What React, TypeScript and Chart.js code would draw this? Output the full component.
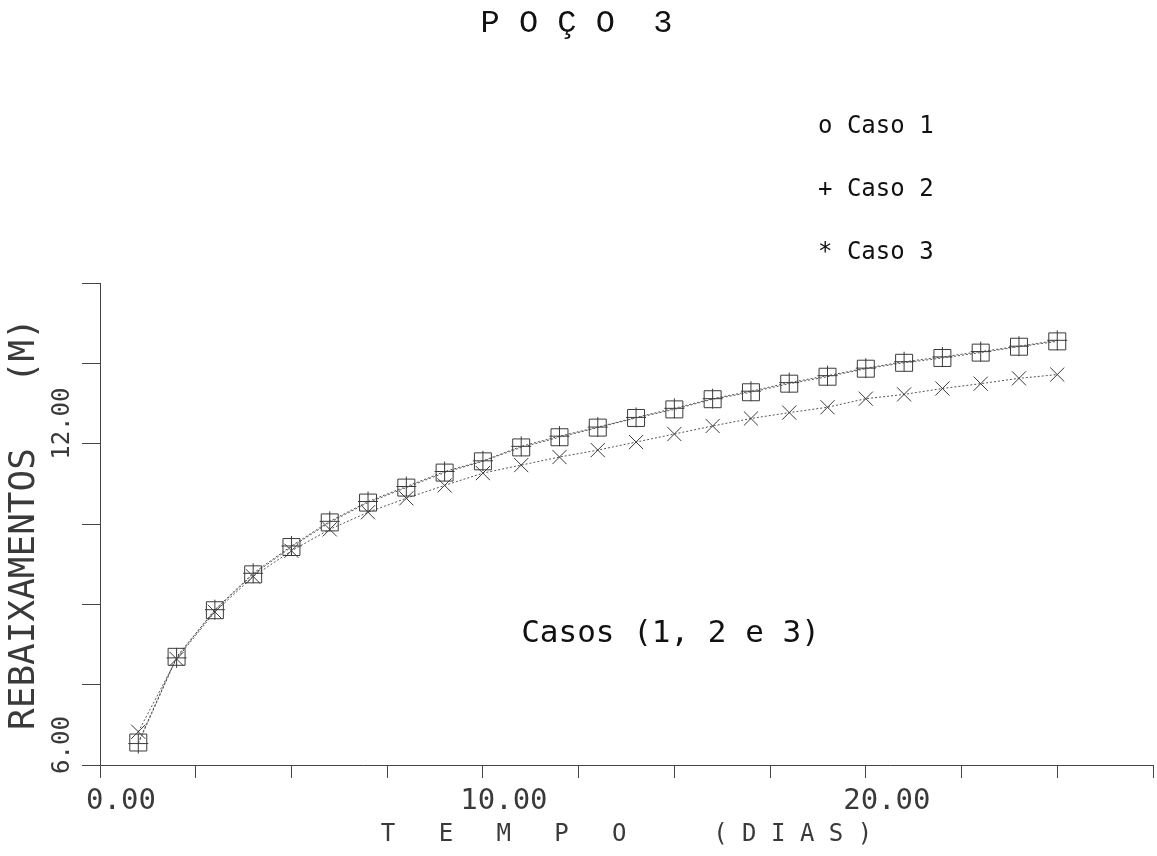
import React, { useEffect, useRef } from "react";
import { Chart, registerables } from "chart.js";

Chart.register(...registerables);

// ---- data ----
const TEMPO_DIAS = [1, 2, 3, 4, 5, 6, 7, 8, 9, 10, 11, 12, 13, 14, 15, 16, 17, 18, 19, 20, 21, 22, 23, 24, 25];
const CASO_1 = [6.42, 8.02, 8.89, 9.56, 10.07, 10.53, 10.9, 11.18, 11.46, 11.67, 11.93, 12.12, 12.3, 12.48, 12.64, 12.83, 12.96, 13.12, 13.25, 13.4, 13.51, 13.6, 13.7, 13.81, 13.91];
const CASO_2 = [6.4, 8.0, 8.9, 9.58, 10.09, 10.55, 10.92, 11.2, 11.48, 11.68, 11.95, 12.14, 12.31, 12.49, 12.66, 12.84, 12.98, 13.14, 13.27, 13.41, 13.53, 13.62, 13.72, 13.82, 13.93];
const CASO_3 = [6.62, 7.98, 8.86, 9.52, 10.0, 10.4, 10.72, 10.98, 11.22, 11.45, 11.6, 11.75, 11.88, 12.03, 12.18, 12.33, 12.47, 12.58, 12.68, 12.84, 12.92, 13.03, 13.12, 13.22, 13.29];

const SERIES_LABELS = ["Caso 1", "Caso 2", "Caso 3"];
const LEGEND_SYMBOLS = ["o", "+", "*"];
const X_LABELED_TICKS = [0, 10, 20];
const Y_LABELED_TICKS = [6, 12];
const TITLE = "P O Ç O  3";
const X_TITLE = "T   E   M   P   O      ( D I A S )";
const Y_TITLE = "REBAIXAMENTOS   (M)";
const NOTE = "Casos (1, 2 e 3)";
const NOTE_AT = { x: 11, y: 8.45 };

const INK = "#111111";
const PLOT_INK = "#3a3a3a";
const AXIS = "#444444";
const MONO = "'DejaVu Sans Mono', monospace";

const overlayText = {
  id: "overlayText",
  afterDraw(chart: any) {
    const ctx = chart.ctx;
    ctx.save();
    ctx.fillStyle = INK;
    ctx.textAlign = "left";
    ctx.textBaseline = "middle";
    ctx.font = `24px ${MONO}`;
    chart.data.datasets.forEach((ds: any, i: number) => {
      ctx.fillText(`${LEGEND_SYMBOLS[i]} ${ds.label}`, 818, 127 + i * 63);
    });
    ctx.font = `31px ${MONO}`;
    const px = chart.scales.x.getPixelForValue(NOTE_AT.x);
    const py = chart.scales.y.getPixelForValue(NOTE_AT.y);
    ctx.fillText(NOTE, px, py);
    ctx.restore();
  },
};

function near(v: number, list: number[]) {
  return list.some((l) => Math.abs(l - v) < 1e-6);
}

export default function App() {
  const ref = useRef<HTMLCanvasElement | null>(null);

  useEffect(() => {
    if (!ref.current) return;
    const series = [CASO_1, CASO_2, CASO_3];
    const styles = [
      { pointStyle: "rect", pointRadius: 12 },
      { pointStyle: "cross", pointRadius: 10 },
      { pointStyle: "crossRot", pointRadius: 10 },
    ];
    const chart = new Chart(ref.current, {
      type: "line",
      data: {
        datasets: series.map((vals, i) => ({
          label: SERIES_LABELS[i],
          data: TEMPO_DIAS.map((t, j) => ({ x: t, y: vals[j] })),
          borderColor: "#555555",
          borderWidth: 1,
          borderDash: [2, 2],
          pointStyle: styles[i].pointStyle as any,
          pointRadius: styles[i].pointRadius,
          pointBorderColor: PLOT_INK,
          pointBackgroundColor: "rgba(0,0,0,0)",
          pointBorderWidth: 1,
          fill: false,
          tension: 0,
        })),
      },
      options: {
        animation: false,
        responsive: false,
        devicePixelRatio: 1,
        layout: { autoPadding: false, padding: { left: 0, right: 4, top: 0, bottom: 0 } },
        plugins: {
          legend: { display: false },
          tooltip: { enabled: false },
          title: {
            display: true,
            text: TITLE,
            color: INK,
            font: { family: "'Liberation Mono', monospace", size: 32, weight: "normal", lineHeight: 1.2 },
            padding: { top: 4, bottom: 240.6 },
          },
        },
        scales: {
          x: {
            type: "linear",
            min: 0,
            max: 27.5,
            grid: { display: true, drawOnChartArea: false, drawTicks: true, tickLength: 13, color: AXIS, lineWidth: 1 },
            border: { display: true, color: AXIS, width: 1 },
            ticks: {
              stepSize: 2.5,
              autoSkip: false,
              maxRotation: 0,
              minRotation: 0,
              padding: 6,
              labelOffset: 21,
              color: PLOT_INK,
              font: { family: MONO, size: 29 },
              callback: (v: any) => (near(Number(v), X_LABELED_TICKS) ? Number(v).toFixed(2) : ""),
            },
            title: {
              display: true,
              text: X_TITLE,
              color: PLOT_INK,
              font: { family: MONO, size: 24, lineHeight: 1.2 },
              padding: { top: 0, bottom: 7 },
            },
            afterFit: (s: any) => {
              s.height = 91;
              s.paddingLeft = 0;
              s.paddingRight = 0;
            },
          },
          y: {
            type: "linear",
            min: 6,
            max: 15,
            grid: { display: true, drawOnChartArea: false, drawTicks: true, tickLength: 18, color: AXIS, lineWidth: 1 },
            border: { display: true, color: AXIS, width: 1 },
            ticks: {
              stepSize: 1.5,
              autoSkip: false,
              minRotation: 90,
              maxRotation: 90,
              crossAlign: "center",
              padding: -17,
              labelOffset: -20,
              color: PLOT_INK,
              font: { family: MONO, size: 24 },
              callback: (v: any) => (near(Number(v), Y_LABELED_TICKS) ? Number(v).toFixed(2) : ""),
            },
            title: {
              display: true,
              text: Y_TITLE,
              color: PLOT_INK,
              font: { family: MONO, size: 36, lineHeight: 1.2 },
              padding: { top: 3, bottom: 0 },
            },
            afterFit: (s: any) => {
              s.width = 100;
              s.paddingTop = 0;
              s.paddingBottom = 0;
            },
          },
        },
      },
      plugins: [overlayText],
    });
    return () => chart.destroy();
  }, []);

  return (
    <div style={{ position: "absolute", left: 0, top: 0, width: 1157, height: 856, background: "#ffffff" }}>
      <canvas ref={ref} width={1157} height={856} style={{ display: "block", width: 1157, height: 856 }} />
    </div>
  );
}
